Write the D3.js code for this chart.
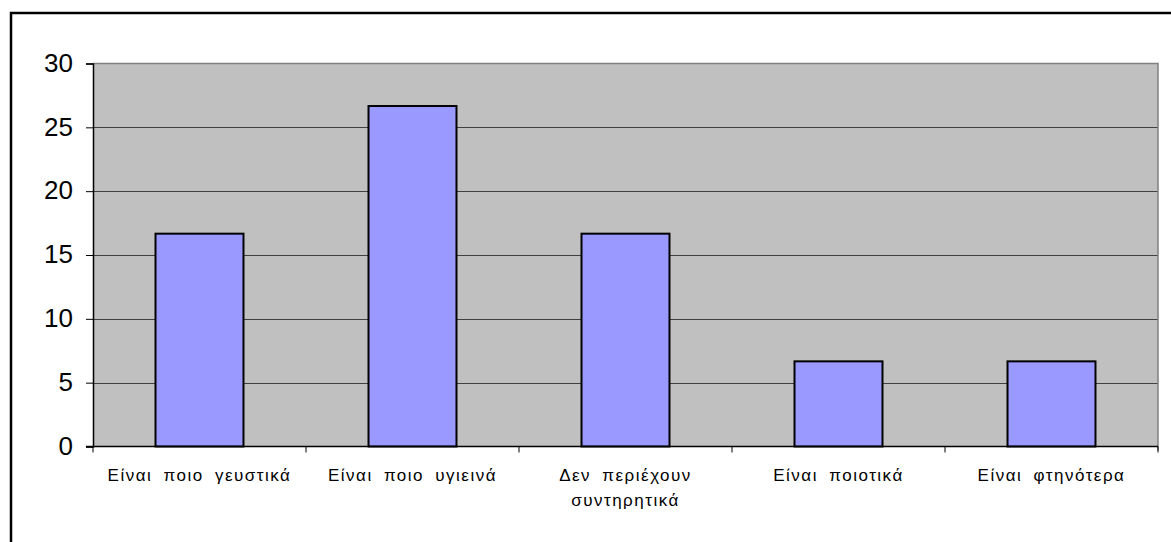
<!DOCTYPE html>
<html>
<head>
<meta charset="utf-8">
<script src="https://cdn.jsdelivr.net/npm/d3@7"></script>
<style>
  html, body { margin: 0; padding: 0; background: #fff; }
  svg { display: block; }
  text { font-family: Arial, "Liberation Sans", sans-serif; fill: #000; }
</style>
</head>
<body>
<svg id="chart" width="1171" height="542"></svg>
<script>
// Reasons given (percent of respondents)
const categories = [
  ["Είναι ποιο γευστικά"],
  ["Είναι ποιο υγιεινά"],
  ["Δεν περιέχουν", "συντηρητικά"],
  ["Είναι ποιοτικά"],
  ["Είναι φτηνότερα"]
];
const values = [16.67, 26.67, 16.67, 6.67, 6.67];
const yTicks = [0, 5, 10, 15, 20, 25, 30];

const svg = d3.select("#chart");
const W = 1171, H = 542;

// outer frame
svg.append("rect")
  .attr("x", 11).attr("y", 13)
  .attr("width", W + 20).attr("height", H + 20)
  .attr("fill", "#fff").attr("stroke", "#000").attr("stroke-width", 2.5);

const plot = { left: 93, top: 63.5, right: 1158, bottom: 446.5 };

const x = d3.scaleBand()
  .domain(d3.range(categories.length))
  .range([plot.left, plot.right])
  .paddingInner(0.587)
  .paddingOuter(0.2935);

const xCat = d3.scaleBand()
  .domain(d3.range(categories.length))
  .range([plot.left, plot.right]);

const y = d3.scaleLinear().domain([0, 30]).range([plot.bottom, plot.top]);

// plot background
svg.append("rect")
  .attr("x", plot.left).attr("y", plot.top)
  .attr("width", plot.right - plot.left).attr("height", plot.bottom - plot.top)
  .attr("fill", "#c0c0c0");

// gridlines
svg.append("g")
  .selectAll("line")
  .data(yTicks.filter(d => d > 0 && d < 30))
  .join("line")
  .attr("x1", plot.left).attr("x2", plot.right)
  .attr("y1", d => Math.round(y(d)) + 0.5).attr("y2", d => Math.round(y(d)) + 0.5)
  .attr("stroke", "#404040").attr("stroke-width", 1);

// plot border (top / right)
svg.append("path")
  .attr("d", `M${plot.left},${plot.top}H${plot.right}V${plot.bottom + 4}`)
  .attr("fill", "none").attr("stroke", "#808080").attr("stroke-width", 1.5);

// bars
svg.append("g")
  .selectAll("rect")
  .data(values)
  .join("rect")
  .attr("x", (d, i) => x(i))
  .attr("y", d => y(d))
  .attr("width", x.bandwidth())
  .attr("height", d => y(0) - y(d))
  .attr("fill", "#9999ff")
  .attr("stroke", "#000").attr("stroke-width", 2);

// y axis
const yAxis = d3.axisLeft(y).tickValues(yTicks).tickSize(7).tickPadding(13).tickFormat(d3.format("d"));
const gy = svg.append("g").attr("transform", `translate(${plot.left},0)`).call(yAxis);
gy.select(".domain").attr("stroke", "#000").attr("stroke-width", 1.5);
gy.selectAll(".tick line").attr("stroke", "#000");
gy.selectAll(".tick text")
  .attr("font-size", 26).attr("font-family", "Arial, 'Liberation Sans', sans-serif")
  .attr("dy", "0.3em").attr("fill", "#000");

// x axis line and category separators
svg.append("line")
  .attr("x1", plot.left - 7).attr("x2", plot.right)
  .attr("y1", plot.bottom).attr("y2", plot.bottom)
  .attr("stroke", "#000").attr("stroke-width", 1.5);
svg.append("g")
  .selectAll("line")
  .data(d3.range(categories.length + 1))
  .join("line")
  .attr("x1", i => i < categories.length ? xCat(i) : plot.right)
  .attr("x2", i => i < categories.length ? xCat(i) : plot.right)
  .attr("y1", plot.bottom).attr("y2", plot.bottom + 6)
  .attr("stroke", "#000").attr("stroke-width", 1);

// category labels
const labels = svg.append("g")
  .selectAll("text")
  .data(categories)
  .join("text")
  .attr("x", (d, i) => xCat(i) + xCat.bandwidth() / 2)
  .attr("y", 481)
  .attr("text-anchor", "middle")
  .attr("font-size", 17)
  .attr("letter-spacing", 1.5)
  .attr("word-spacing", 5);
labels.selectAll("tspan")
  .data(d => d)
  .join("tspan")
  .attr("x", function() { return this.parentNode.getAttribute("x"); })
  .attr("dy", (d, i) => i === 0 ? 0 : 25)
  .text(d => d);
</script>
</body>
</html>
